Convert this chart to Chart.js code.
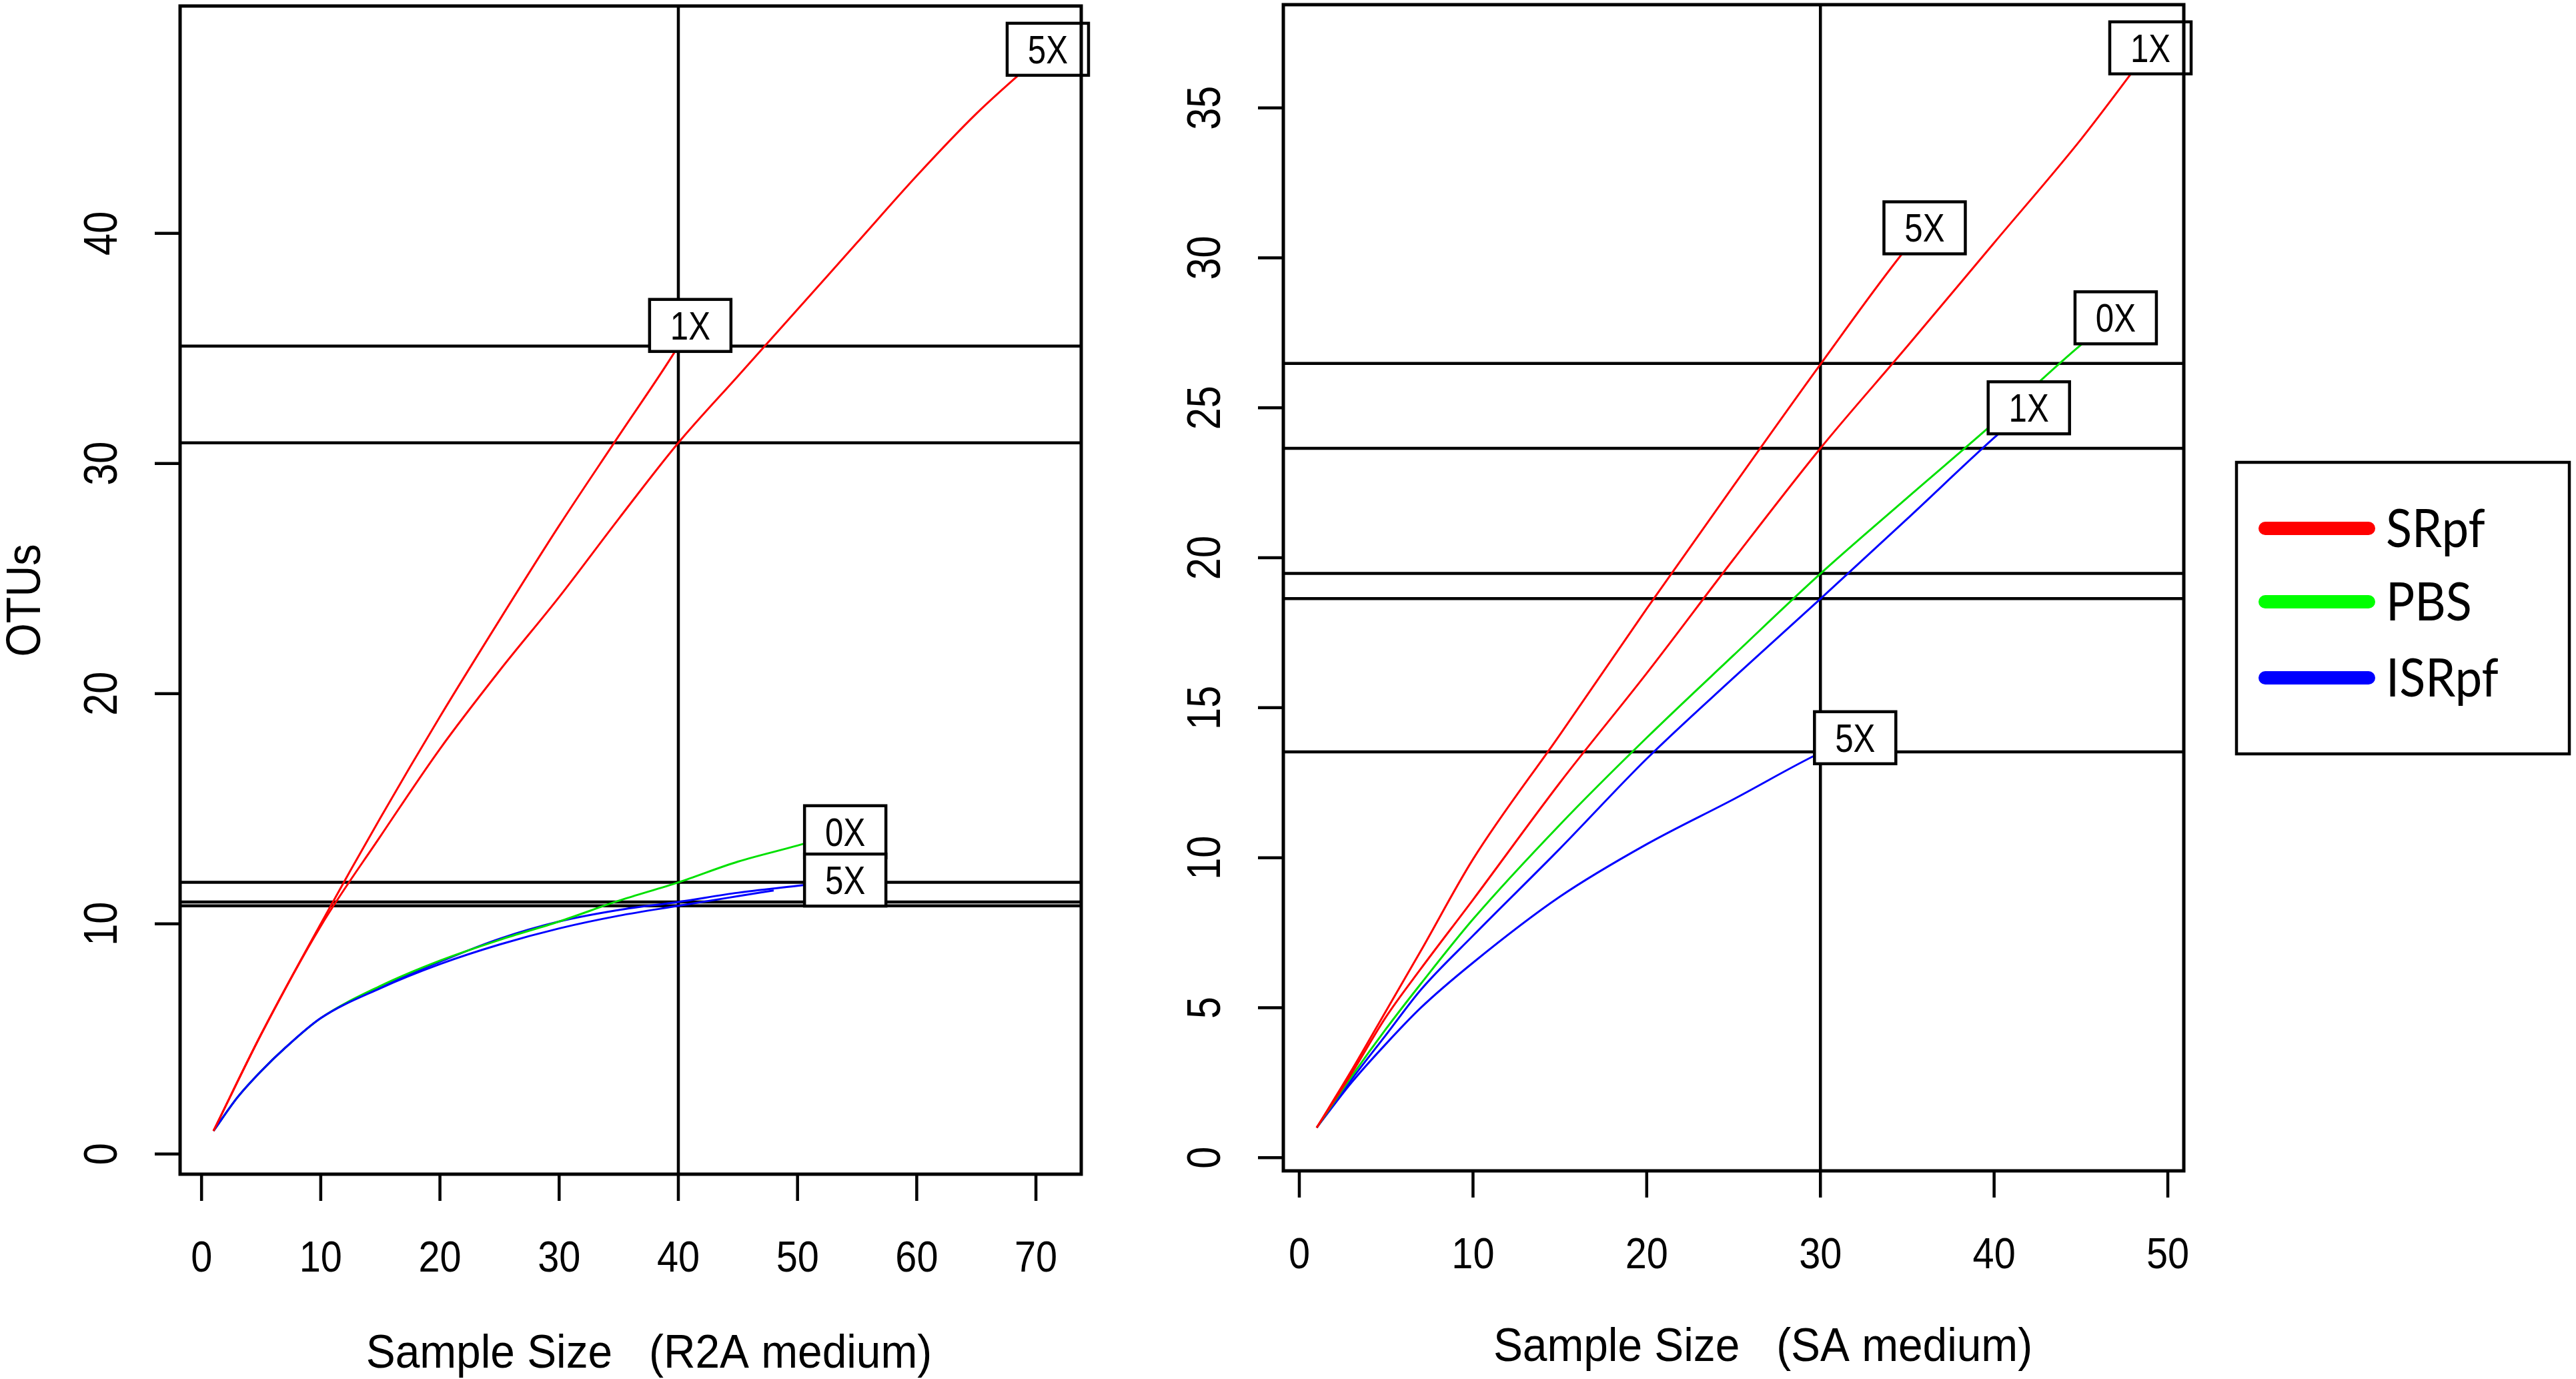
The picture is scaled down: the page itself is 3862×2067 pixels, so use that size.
<!DOCTYPE html>
<html lang="en">
<head>
<meta charset="UTF-8">
<title>Rarefaction curves</title>
<script src="https://cdn.jsdelivr.net/npm/chart.js@4.4.1/dist/chart.umd.min.js"></script>
<style>
  html, body { margin: 0; padding: 0; background: #fff; }
  body { width: 3862px; height: 2067px; position: relative; overflow: hidden; }
  canvas { position: absolute; top: 0; }
  #r2a { left: 0; }
  #sa { left: 1700px; }
</style>
</head>
<body>
<canvas id="r2a" width="1700" height="2067"></canvas>
<canvas id="sa" width="2162" height="2067"></canvas>
<script>
// ---- tick labels ----
const r2aXTicks = [0, 10, 20, 30, 40, 50, 60, 70];
const r2aYTicks = [0, 10, 20, 30, 40];
const saXTicks = [0, 10, 20, 30, 40, 50];
const saYTicks = [0, 5, 10, 15, 20, 25, 30, 35];

// ---- R2A medium curves (sample size -> OTUs) ----
const r2aSRpf1X_n = [1, 5, 10, 15, 20, 25, 30, 35, 40, 41];
const r2aSRpf1X = [1, 5.2, 10.0, 14.6, 19.0, 23.2, 27.3, 31.2, 35.1, 36.0];
const r2aSRpf5X_n = [1, 5, 10, 15, 20, 25, 30, 35, 40, 45, 50, 55, 60, 65, 71];
const r2aSRpf5X = [1, 5.2, 9.9, 13.8, 17.6, 21.0, 24.2, 27.6, 30.9, 33.8, 36.7, 39.6, 42.5, 45.2, 48.0];
const r2aPBS0X_n = [1, 3, 5, 7, 10, 15, 20, 25, 30, 35, 40, 45, 50, 54];
const r2aPBS0X = [1, 2.45, 3.6, 4.6, 5.9, 7.3, 8.4, 9.3, 10.1, 11.0, 11.8, 12.7, 13.4, 14.0];
const r2aISRpf1X_n = [1, 3, 5, 7, 10, 15, 20, 25, 30, 35, 40, 45, 48];
const r2aISRpf1X = [1, 2.45, 3.6, 4.6, 5.9, 7.2, 8.25, 9.1, 9.8, 10.35, 10.78, 11.2, 11.45];
const r2aISRpf5X_n = [1, 3, 5, 7, 10, 15, 20, 25, 30, 35, 40, 45, 50, 54];
const r2aISRpf5X = [1, 2.45, 3.6, 4.6, 5.9, 7.25, 8.35, 9.35, 10.1, 10.6, 10.95, 11.35, 11.65, 11.9];
const r2aSample = 40;
const r2aRarefied = [35.1, 30.9, 11.8, 10.95, 10.78];

// ---- SA medium curves ----
const saSRpf1X_n = [1, 3, 5, 7, 10, 15, 20, 25, 30, 35, 40, 45, 49];
const saSRpf1X = [1, 2.8, 4.7, 6.3, 8.6, 12.5, 16.15, 19.95, 23.65, 27.05, 30.5, 33.95, 37.0];
const saSRpf5X_n = [1, 3, 5, 7, 10, 15, 20, 25, 30, 35, 36];
const saSRpf5X = [1, 2.9, 4.9, 6.9, 9.95, 14.1, 18.3, 22.4, 26.45, 30.35, 31.0];
const saPBS0X_n = [1, 3, 5, 7, 10, 15, 20, 25, 30, 35, 40, 45, 47];
const saPBS0X = [1, 2.7, 4.3, 5.8, 7.95, 11.1, 14.0, 16.75, 19.47, 22.0, 24.5, 27.1, 28.0];
const saISRpf1X_n = [1, 3, 5, 7, 10, 15, 20, 25, 30, 35, 40, 42];
const saISRpf1X = [1, 2.6, 4.1, 5.6, 7.4, 10.3, 13.3, 16.0, 18.63, 21.3, 24.0, 25.0];
const saISRpf5X_n = [1, 3, 5, 7, 10, 15, 20, 25, 30, 32];
const saISRpf5X = [1, 2.5, 3.8, 5.0, 6.5, 8.7, 10.45, 11.95, 13.5, 14.0];
const saSample = 30;
const saRarefied = [26.48, 23.65, 19.48, 18.64, 13.53];

const groups = ['SRpf', 'PBS', 'ISRpf'];
const groupColors = { SRpf: '#ff0000', PBS: '#00e000', ISRpf: '#0000ff' };

const FONT = "'Liberation Sans', Arial, Helvetica, sans-serif";

function drawText(ctx, text, x, y, size, sx, rot, dy, font, align) {
  ctx.save();
  ctx.translate(x, y);
  if (rot) ctx.rotate(rot);
  ctx.scale(sx, 1);
  ctx.font = size + 'px ' + (font || FONT);
  ctx.fillStyle = '#000';
  ctx.textAlign = align || 'center';
  ctx.textBaseline = 'alphabetic';
  ctx.fillText(text, 0, dy || 0);
  ctx.restore();
}

function curve(ns, ys, group, label) {
  return {
    label: group,
    endLabel: label,
    data: ns.map((n, i) => ({ x: n, y: ys[i] })),
    borderColor: groupColors[group],
    borderWidth: 3,
    showLine: true,
    pointRadius: 0,
    cubicInterpolationMode: 'monotone',
    order: 0
  };
}

function refLine(points) {
  return {
    data: points,
    borderColor: '#000',
    borderWidth: 4.5,
    showLine: true,
    pointRadius: 0,
    order: 1
  };
}

const axesPlugin = {
  id: 'rAxes',
  afterDatasetsDraw(chart, args, opts) {
    const ctx = chart.ctx;
    const a = chart.chartArea;
    const xs = chart.scales.x, ys = chart.scales.y;

    // boxed labels at the end of each curve
    chart.data.datasets.forEach(ds => {
      if (!ds.endLabel) return;
      const last = ds.data[ds.data.length - 1];
      const px = xs.getPixelForValue(last.x), py = ys.getPixelForValue(last.y);
      const w = 122, h = 78;
      ctx.save();
      ctx.fillStyle = '#fff';
      ctx.fillRect(px - w / 2, py - h / 2, w, h);
      ctx.lineWidth = 4.5;
      ctx.strokeStyle = '#000';
      ctx.strokeRect(px - w / 2, py - h / 2, w, h);
      ctx.restore();
      drawText(ctx, ds.endLabel, px, py + 21, 60, 0.82);
    });

    ctx.save();
    ctx.strokeStyle = '#000';
    ctx.lineWidth = 5;
    ctx.strokeRect(a.left, a.top, a.right - a.left, a.bottom - a.top);

    // x ticks
    ctx.lineWidth = 4.5;
    opts.xTicks.forEach(v => {
      const px = xs.getPixelForValue(v);
      ctx.beginPath();
      ctx.moveTo(px, a.bottom);
      ctx.lineTo(px, a.bottom + 40);
      ctx.stroke();
      drawText(ctx, String(v), px, a.bottom + 146, 64, 0.9);
    });
    // y ticks
    opts.yTicks.forEach(v => {
      const py = ys.getPixelForValue(v);
      ctx.beginPath();
      ctx.moveTo(a.left - 38, py);
      ctx.lineTo(a.left, py);
      ctx.stroke();
      drawText(ctx, String(v), a.left - 120, py, 70, 0.85, -Math.PI / 2, 25);
    });
    ctx.restore();

    drawText(ctx, opts.title, opts.titleX, opts.titleY, 70, 0.94);
    if (opts.yTitle) {
      drawText(ctx, opts.yTitle, 34, opts.yTitleY, 72, 0.9, -Math.PI / 2, 26);
    }

    if (opts.legend) {
      const L = opts.legend;
      ctx.save();
      ctx.fillStyle = '#fff';
      ctx.fillRect(L.x, L.y, L.w, L.h);
      ctx.lineWidth = 4.5;
      ctx.strokeStyle = '#000';
      ctx.strokeRect(L.x, L.y, L.w, L.h);
      groups.forEach((g, i) => {
        const ly = L.rows[i];
        ctx.beginPath();
        ctx.lineCap = 'round';
        ctx.lineWidth = 20;
        ctx.strokeStyle = g === 'PBS' ? '#00ff00' : groupColors[g];
        ctx.moveTo(L.x + 43, ly);
        ctx.lineTo(L.x + 198, ly);
        ctx.stroke();
        drawText(ctx, g, L.x + 224, ly + 28, 80, 0.9, 0, 0, "Lato, 'Open Sans', sans-serif", 'left');
      });
      ctx.restore();
    }
  }
};

function makePanel(id, xr, yr, curves, sample, rarefied, opts, padding) {
  const datasets = curves.slice();
  datasets.push(refLine([{ x: sample, y: yr[0] }, { x: sample, y: yr[1] }]));
  rarefied.forEach(v => datasets.push(refLine([{ x: xr[0], y: v }, { x: xr[1], y: v }])));
  return new Chart(document.getElementById(id), {
    type: 'scatter',
    data: { datasets },
    options: {
      responsive: false,
      animation: false,
      devicePixelRatio: 1,
      layout: { padding },
      plugins: { legend: { display: false }, tooltip: { enabled: false }, rAxes: opts },
      scales: {
        x: { type: 'linear', min: xr[0], max: xr[1], display: false },
        y: { type: 'linear', min: yr[0], max: yr[1], display: false }
      }
    },
    plugins: [axesPlugin]
  });
}

makePanel('r2a', [-1.8, 73.8], [-0.88, 49.88], [
  curve(r2aSRpf1X_n, r2aSRpf1X, 'SRpf', '1X'),
  curve(r2aSRpf5X_n, r2aSRpf5X, 'SRpf', '5X'),
  curve(r2aISRpf1X_n, r2aISRpf1X, 'ISRpf', null),
  curve(r2aPBS0X_n, r2aPBS0X, 'PBS', '0X'),
  curve(r2aISRpf5X_n, r2aISRpf5X, 'ISRpf', '5X')
], r2aSample, r2aRarefied, {
  xTicks: r2aXTicks, yTicks: r2aYTicks,
  title: 'Sample Size   (R2A medium)', titleX: 973, titleY: 2050,
  yTitle: 'OTUs', yTitleY: 900
}, { left: 270, top: 9, right: 79, bottom: 307 });

makePanel('sa', [-0.92, 50.92], [-0.44, 38.44], [
  curve(saSRpf1X_n, saSRpf1X, 'SRpf', '1X'),
  curve(saSRpf5X_n, saSRpf5X, 'SRpf', '5X'),
  curve(saPBS0X_n, saPBS0X, 'PBS', '0X'),
  curve(saISRpf1X_n, saISRpf1X, 'ISRpf', '1X'),
  curve(saISRpf5X_n, saISRpf5X, 'ISRpf', '5X')
], saSample, saRarefied, {
  xTicks: saXTicks, yTicks: saYTicks,
  title: 'Sample Size   (SA medium)', titleX: 943, titleY: 2040,
  legend: { x: 1653, y: 693, w: 499, h: 437, rows: [792, 902, 1016] }
}, { left: 224, top: 7, right: 588, bottom: 312 });
</script>
</body>
</html>
